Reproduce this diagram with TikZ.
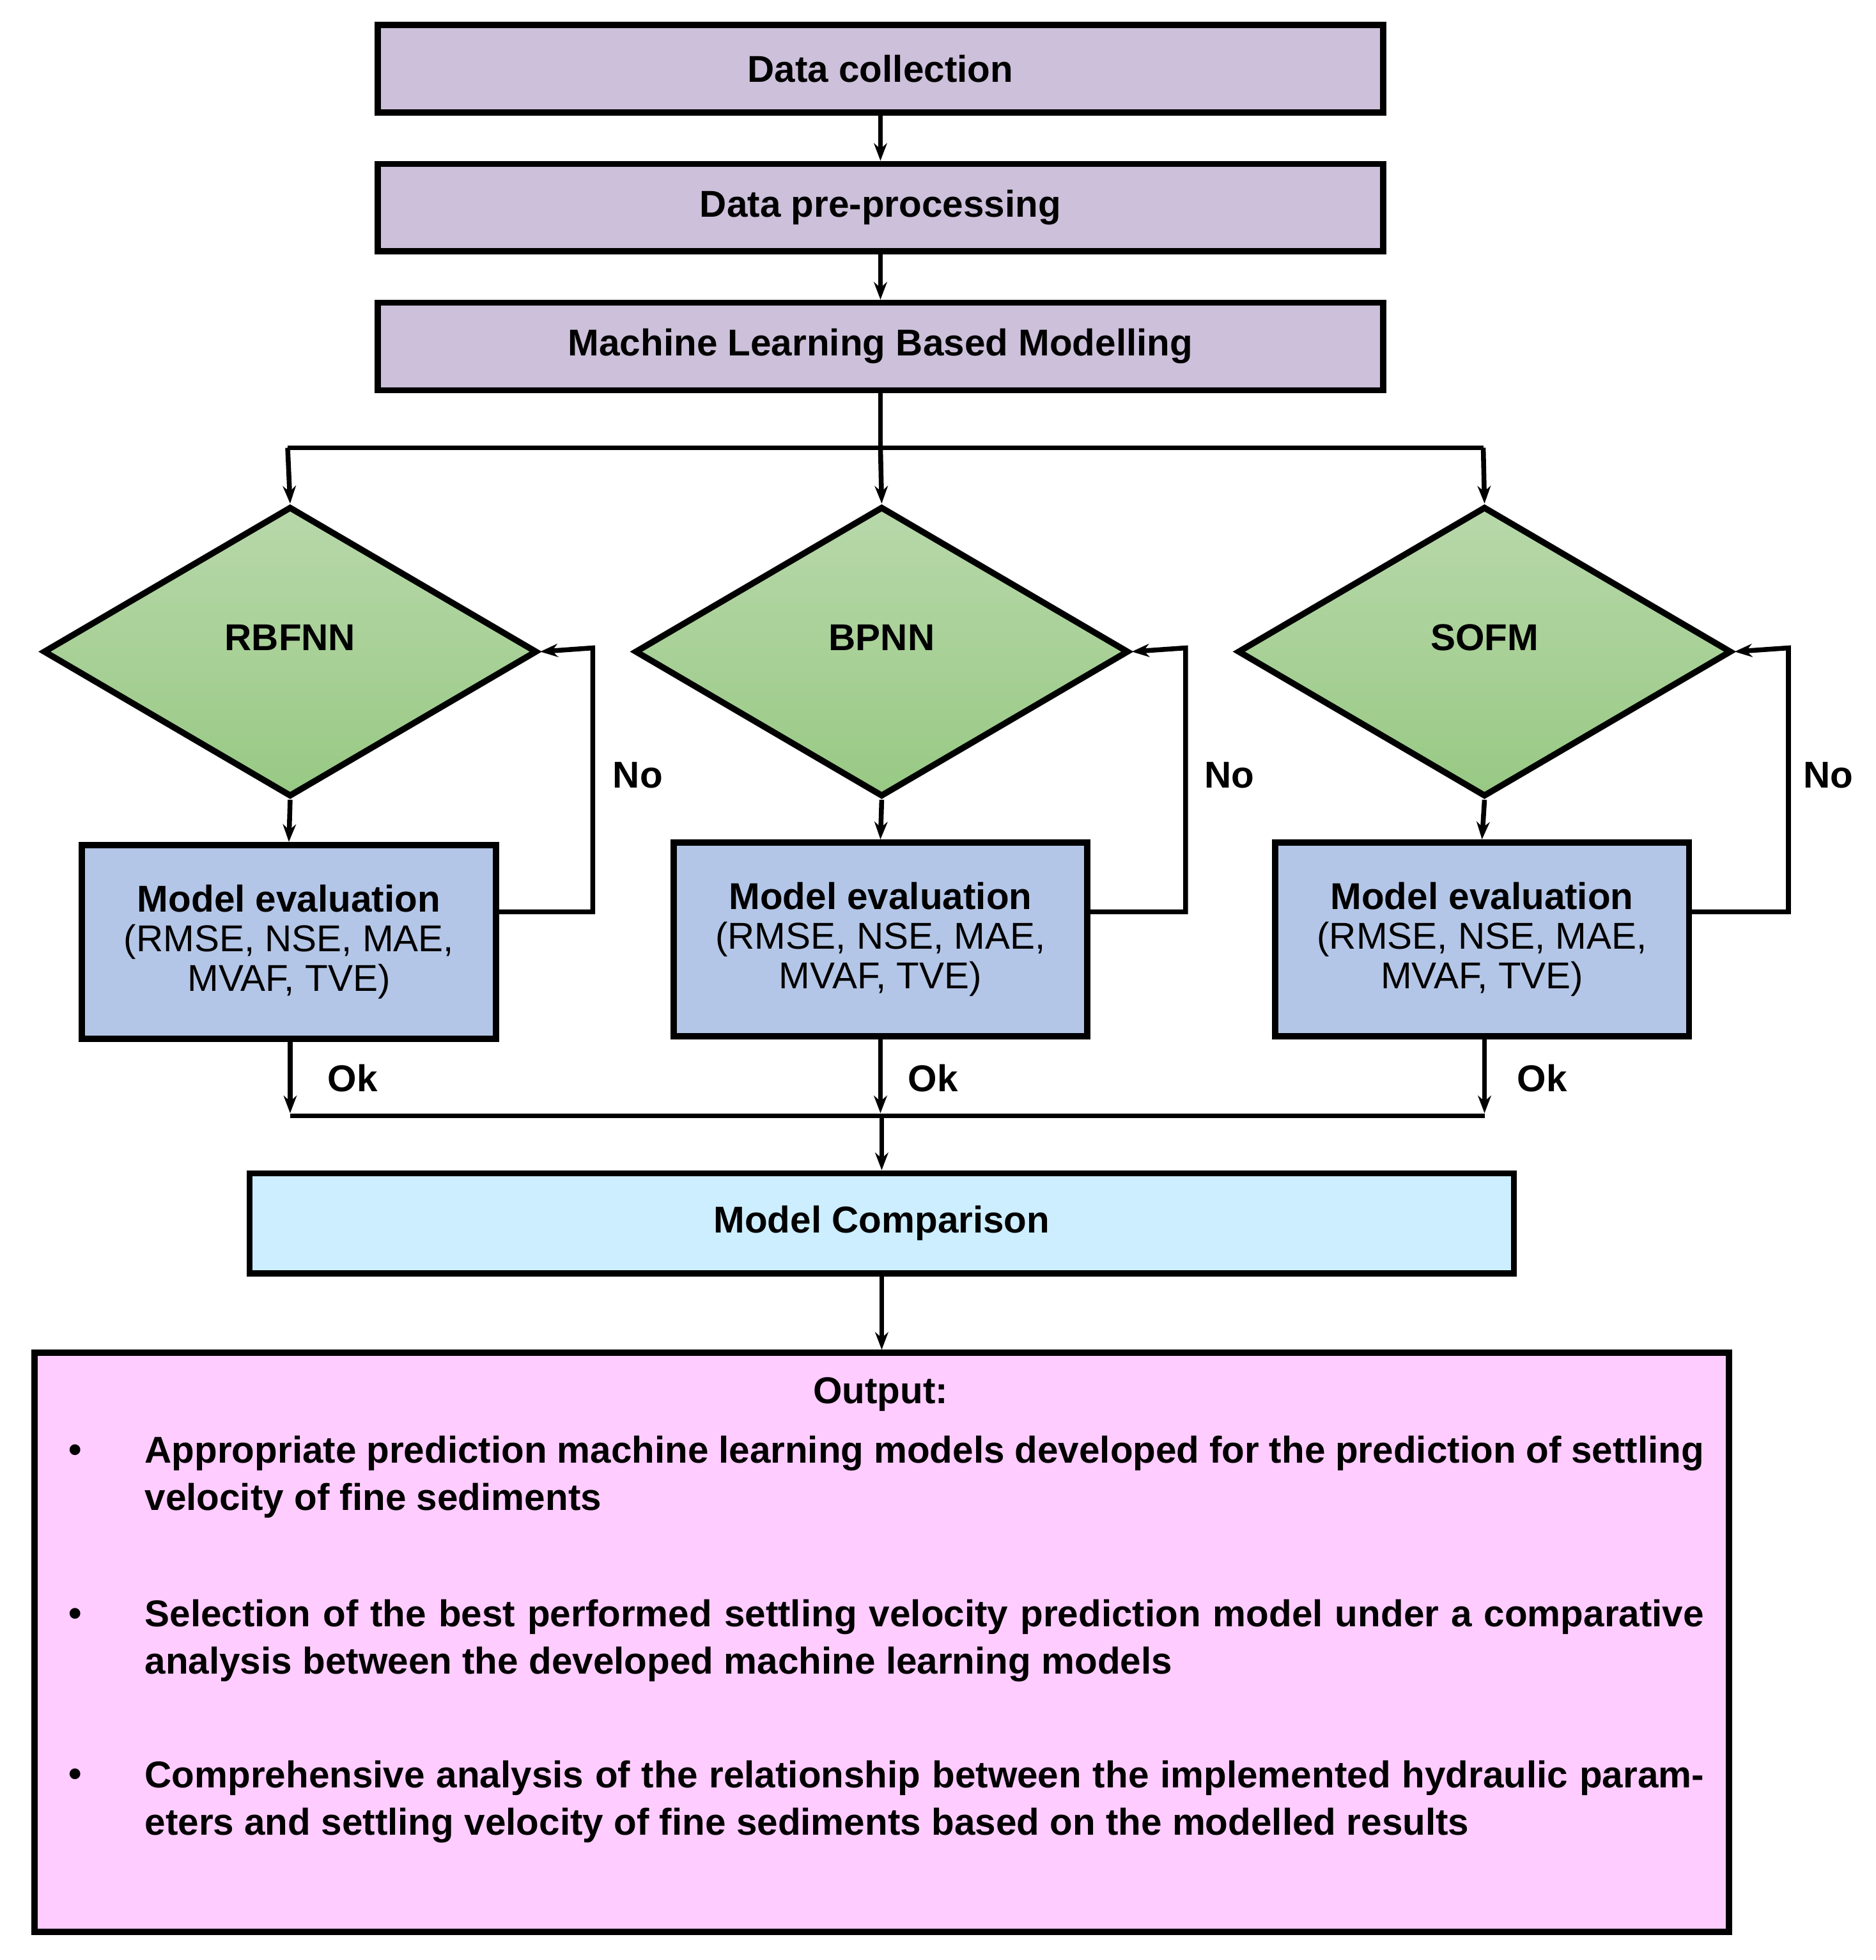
\documentclass[tikz,border=0pt]{standalone}
\usepackage{fontspec}
\setmainfont{Liberation Sans}
\usetikzlibrary{shapes.geometric,arrows.meta}
\definecolor{pur}{HTML}{CCC0DA}
\definecolor{blu}{HTML}{B4C6E7}
\definecolor{cyn}{HTML}{CCEEFF}
\definecolor{pnk}{HTML}{FFCCFF}
\definecolor{gtop}{HTML}{B8D8AA}
\definecolor{gbot}{HTML}{98C984}
\begin{document}
\begin{tikzpicture}[x=0.02cm,y=-0.02cm,line width=2.2pt,
  font=\fontsize{17}{20}\selectfont\bfseries,
  arr/.style={-{Stealth[length=8pt,width=6pt]}},
  box/.style={draw,line width=2.8pt,minimum height=1.4cm,minimum width=16.08cm,fill=pur},
  dia/.style={diamond,draw,line width=2.8pt,minimum width=7.9cm,minimum height=4.64cm,aspect=1.7,inner sep=0pt,top color=gtop,bottom color=gbot},
  ev/.style={draw,line width=2.8pt,minimum width=6.62cm,minimum height=3.1cm,fill=blu,align=center,inner sep=2pt},
  lab/.style={font=\fontsize{17}{20}\selectfont\bfseries}]
\useasboundingbox (0,0) rectangle (1500,1567);
\node[box] (a) at (704,55) {Data collection};
\node[box] (b) at (704,166) {Data pre-processing};
\node[box] (c) at (704,277) {Machine Learning Based Modelling};
\node[dia] (d1) at (232,521) {};
\node[dia] (d2) at (705,521) {};
\node[dia] (d3) at (1187,521) {};
\node at (232,510) {RBFNN};
\node at (705,510) {BPNN};
\node at (1187,510) {SOFM};
\node[ev] (e1) at (231,753) {Model evaluation\\[-2pt]\mdseries(RMSE, NSE, MAE,\\[-2pt]\mdseries MVAF, TVE)};
\node[ev] (e2) at (704,751) {Model evaluation\\[-2pt]\mdseries(RMSE, NSE, MAE,\\[-2pt]\mdseries MVAF, TVE)};
\node[ev] (e3) at (1185,751) {Model evaluation\\[-2pt]\mdseries(RMSE, NSE, MAE,\\[-2pt]\mdseries MVAF, TVE)};
\node[draw,line width=2.8pt,fill=cyn,minimum width=20.22cm,minimum height=1.6cm] (mc) at (705,978) {Model Comparison};
\node[draw,line width=2.8pt,fill=pnk,minimum width=27.1cm,minimum height=9.26cm] (o) at (705,1313) {};
\coordinate (sp) at (704,358);
\coordinate (jn) at (705,892);
\draw[arr] (a) -- (b);
\draw[arr] (b) -- (c);
\draw (c.south) -- (sp);
\draw (230,358) -- (1186,358);
\draw[arr] (230,358) -- (d1.north);
\draw[arr] (sp) -- (d2.north);
\draw[arr] (1186,358) -- (d3.north);
\draw[arr] (d1.south) -- (e1.north);
\draw[arr] (d2.south) -- (e2.north);
\draw[arr] (d3.south) -- (e3.north);
\draw[arr] (e1.east |- 0,729) -| (474,518) -- (d1.east);
\draw[arr] (e2.east |- 0,729) -| (948,518) -- (d2.east);
\draw[arr] (e3.east |- 0,729) -| (1430,518) -- (d3.east);
\node at (510,620) {No};
\node at (983,620) {No};
\node at (1462,620) {No};
\draw[arr] (232,831) -- (232,890);
\draw[arr] (704,829) -- (704,890);
\draw[arr] (1187,829) -- (1187,890);
\node at (282,862) {Ok};
\node at (746,862) {Ok};
\node at (1233,862) {Ok};
\draw (232,892) -- (1187,892);
\draw[arr] (jn) -- (mc.north);
\draw[arr] (mc.south) -- (o.north);
\node at (704,1115) {Output:};
\node[anchor=north west,text width=24.94cm,align=justify,font=\fontsize{17}{21.5}\selectfont\bfseries] at (108,1140) {Appropriate prediction machine learning models developed for the prediction of settling velocity of fine sediments};
\node[anchor=north west,text width=24.94cm,align=justify,font=\fontsize{17}{21.5}\selectfont\bfseries] at (108,1271) {Selection of the best performed settling velocity prediction model under a comparative analysis between the developed machine learning models};
\node[anchor=north west,text width=24.94cm,align=justify,font=\fontsize{17}{21.5}\selectfont\bfseries] at (108,1400) {Comprehensive analysis of the relationship between the implemented hydraulic parameters and settling velocity of fine sediments based on the modelled results};
\node at (60,1162) {\textbullet};
\node at (60,1293) {\textbullet};
\node at (60,1421) {\textbullet};
\end{tikzpicture}
\end{document}
